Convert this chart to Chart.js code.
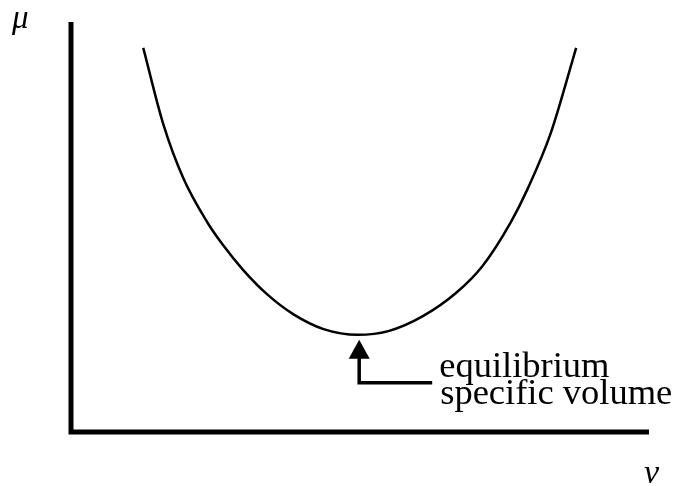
<!DOCTYPE html>
<html>
<head>
<meta charset="utf-8">
<script src="https://cdn.jsdelivr.net/npm/chart.js@4/dist/chart.umd.min.js"></script>
<style>
  html, body { margin: 0; padding: 0; background: #fff; }
  #wrap { width: 677px; height: 486px; }
</style>
</head>
<body>
<div id="wrap"><canvas id="myChart"></canvas></div>
<script>
// specific volume (v) and chemical potential (mu) along the curve
const vValues = [1.25, 1.59, 1.94, 2.36, 2.63, 2.98, 3.40, 3.85, 4.37, 4.96, 5.49, 6.08, 6.66, 7.12, 7.61, 7.90, 8.30, 8.74];
const muValues = [9.37, 7.54, 6.20, 5.11, 4.56, 3.95, 3.35, 2.87, 2.51, 2.37, 2.46, 2.82, 3.39, 4.05, 5.12, 5.93, 7.29, 9.37];
const labelLines = ["equilibrium", "specific volume"];
const xAxisTitle = "v";
const yAxisTitle = "μ";

const points = vValues.map((v, i) => ({ x: v, y: muValues[i] }));

// index of the minimum, where the arrow points
let minIdx = 0;
muValues.forEach((m, i) => { if (m < muValues[minIdx]) minIdx = i; });

const axesAndNotes = {
    id: "axesAndNotes",
    afterDraw: (chart) => {
        const ctx = chart.ctx;
        const area = chart.chartArea;
        const xs = chart.scales.x;
        const ys = chart.scales.y;
        ctx.save();

        // axes
        ctx.strokeStyle = "#000";
        ctx.lineWidth = 5;
        ctx.lineCap = "butt";
        ctx.beginPath();
        ctx.moveTo(area.left, area.top);
        ctx.lineTo(area.left, area.bottom + 2.5);
        ctx.moveTo(area.left - 2.5, area.bottom);
        ctx.lineTo(area.right, area.bottom);
        ctx.stroke();

        // axis symbols
        ctx.fillStyle = "#000";
        ctx.font = "italic 33px 'Liberation Serif'";
        ctx.textBaseline = "alphabetic";
        ctx.textAlign = "left";
        ctx.fillText(yAxisTitle, 12, 28);
        ctx.font = "italic 34px 'Liberation Serif'";
        ctx.fillText(xAxisTitle, 644, 483);

        // arrow to the minimum
        const px = xs.getPixelForValue(vValues[minIdx]) + 1.5;
        const py = ys.getPixelForValue(muValues[minIdx]);
        const tip = py + 5;
        ctx.beginPath();
        ctx.moveTo(px, tip);
        ctx.lineTo(px - 10.5, tip + 19);
        ctx.lineTo(px + 10.5, tip + 19);
        ctx.closePath();
        ctx.fill();

        ctx.lineWidth = 3.5;
        ctx.lineJoin = "miter";
        ctx.beginPath();
        ctx.moveTo(px, tip + 18);
        ctx.lineTo(px, tip + 43);
        ctx.lineTo(px + 73, tip + 43);
        ctx.stroke();

        // label
        ctx.font = "36.5px 'Liberation Serif'";
        ctx.fillText(labelLines[0], px + 80, tip + 37);
        ctx.fillText(labelLines[1], px + 81, tip + 64);

        ctx.restore();
    }
};

const config = {
    type: "line",
    data: {
        datasets: [
            {
                data: points,
                borderColor: "#000",
                borderWidth: 2.5,
                pointRadius: 0,
                fill: false,
                cubicInterpolationMode: "monotone"
            }
        ]
    },
    options: {
        responsive: true,
        maintainAspectRatio: false,
        animation: false,
        layout: {
            padding: { left: 71, right: 28, top: 22, bottom: 54 }
        },
        scales: {
            x: { type: "linear", min: 0, max: 10, display: false },
            y: { type: "linear", min: 0, max: 10, display: false }
        },
        plugins: {
            legend: { display: false },
            tooltip: { enabled: false }
        }
    },
    plugins: [axesAndNotes]
};

const ctx = document.querySelector("#myChart").getContext("2d");
new Chart(ctx, config);
</script>
</body>
</html>
